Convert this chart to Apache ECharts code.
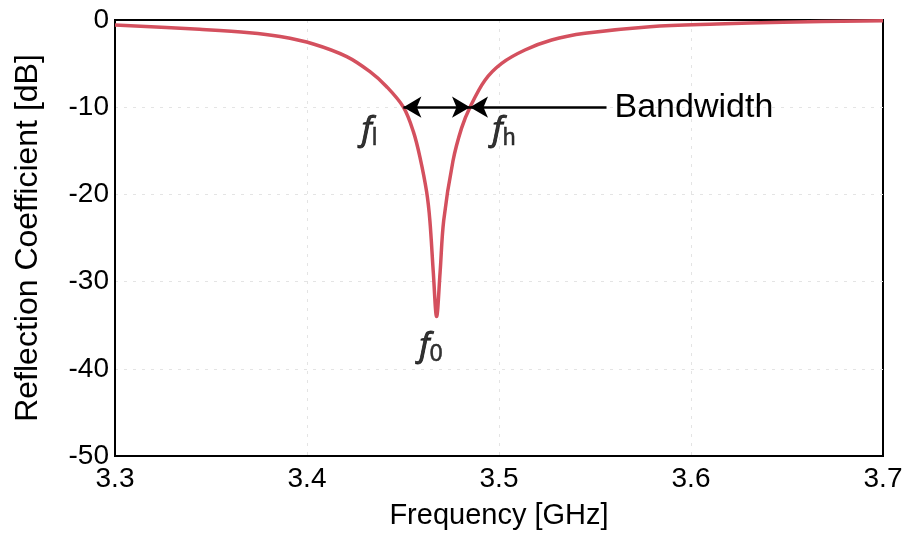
<!DOCTYPE html>
<html><head><meta charset="utf-8">
<script src="https://cdn.jsdelivr.net/npm/echarts@6/dist/echarts.min.js"></script>
<style>html,body{margin:0;padding:0;background:#fff}#c{width:908px;height:533px}</style>
</head><body><div id="c"></div>
<script>
const freq = [3.300, 3.344, 3.370, 3.386, 3.4033, 3.4207, 3.4328, 3.4415, 3.4502, 3.4554, 3.4589, 3.4623, 3.4640, 3.4658, 3.4675, 3.4693, 3.4712, 3.4760, 3.4805, 3.4849, 3.4927, 3.5014, 3.5135, 3.5274, 3.5448, 3.5786, 3.6135, 3.648, 3.700];
const s11dB = [-0.57, -1.07, -1.45, -1.9, -2.75, -4.2, -5.93, -7.65, -10, -12.8, -15.8, -19.7, -23.0, -29, -34, -29, -23.0, -16.2, -12.4, -10, -6.9, -4.97, -3.44, -2.29, -1.53, -0.77, -0.46, -0.26, -0.08];
const xTicks = [3.3, 3.4, 3.5, 3.6, 3.7];
const yTicks = [0, -10, -20, -30, -40, -50];
const bwLevel = -10;
const fLow = 3.4502, fHigh = 3.4849, bwTextStart = 3.556;
const labelPts = [
  [3.4325, -12.9, 'l'],
  [3.5025, -12.9, 'h'],
  [3.4645, -37.6, '0']
];

const chart = echarts.init(document.getElementById('c'));
const font = 'Liberation Sans, Arial, sans-serif';
chart.setOption({
  animation: false,
  backgroundColor: '#fff',
  grid: { left: 115, right: 25, top: 20, bottom: 77, outerBoundsMode: 'none', containLabel: false, show: true, borderColor: '#000', borderWidth: 2, backgroundColor: 'transparent' },
  xAxis: {
    type: 'value', min: xTicks[0], max: xTicks[xTicks.length - 1], interval: 0.1,
    name: 'Frequency [GHz]', nameLocation: 'middle', nameGap: 45,
    nameTextStyle: { fontFamily: font, fontSize: 29, color: '#000' },
    axisLine: { show: true, lineStyle: { color: '#000', width: 2 } },
    axisTick: { show: false },
    axisLabel: { fontFamily: font, fontSize: 28, color: '#000', margin: 9, formatter: v => v.toFixed(1) },
    splitLine: { show: true, showMinLine: false, showMaxLine: false, lineStyle: { color: '#e4e4e4', type: [3, 6], width: 1 } }
  },
  yAxis: {
    type: 'value', min: yTicks[yTicks.length - 1], max: yTicks[0], interval: 10,
    name: 'Reflection Coefficient [dB]', nameLocation: 'middle', nameGap: 71,
    nameTextStyle: { fontFamily: font, fontSize: 32, color: '#000' },
    axisLine: { show: true, lineStyle: { color: '#000', width: 2 } },
    axisTick: { show: false },
    axisLabel: { fontFamily: font, fontSize: 28, color: '#000', margin: 6 },
    splitLine: { show: true, showMinLine: false, showMaxLine: false, lineStyle: { color: '#e4e4e4', type: [3, 6], width: 1 } }
  },
  series: [
    {
      type: 'line', data: freq.map((f, i) => [f, s11dB[i]]),
      showSymbol: false, smooth: 0.35,
      lineStyle: { color: '#d4505e', width: 3.5 },
      z: 3,
      markLine: {
        silent: true, animation: false,
        label: { show: false },
        lineStyle: { color: '#000', width: 2.5, type: 'solid' },
        symbolSize: [16, 18],
        data: [
          [ { coord: [fLow, bwLevel], symbol: 'arrow' }, { coord: [fHigh, bwLevel], symbol: 'arrow' } ],
          [ { coord: [bwTextStart, bwLevel], symbol: 'none' }, { coord: [fHigh, bwLevel], symbol: 'arrow' } ]
        ]
      },
      markPoint: {
        silent: true, symbolSize: 0,
        data: [ { coord: [bwTextStart, bwLevel], label: { show: true, position: 'right', distance: 8, formatter: 'Bandwidth', fontFamily: font, fontSize: 34, color: '#000' } } ]
      }
    },
    {
      type: 'scatter', symbolSize: 0, silent: true, z: 5,
      data: labelPts,
      label: {
        show: true, position: 'inside', color: '#000',
        formatter: p => '{f|f}{s|' + p.data[2] + '}',
        rich: {
          f: { fontFamily: 'Noto Sans, DejaVu Sans, sans-serif', fontStyle: 'italic', fontSize: 33, color: '#000', textBorderColor: '#000', textBorderWidth: 0.8, lineHeight: 36, verticalAlign: 'top' },
          s: { fontFamily: font, fontSize: 23, color: '#000', textBorderColor: '#000', textBorderWidth: 0.5, lineHeight: 36, verticalAlign: 'bottom' }
        }
      }
    }
  ]
});
</script>
</body></html>
